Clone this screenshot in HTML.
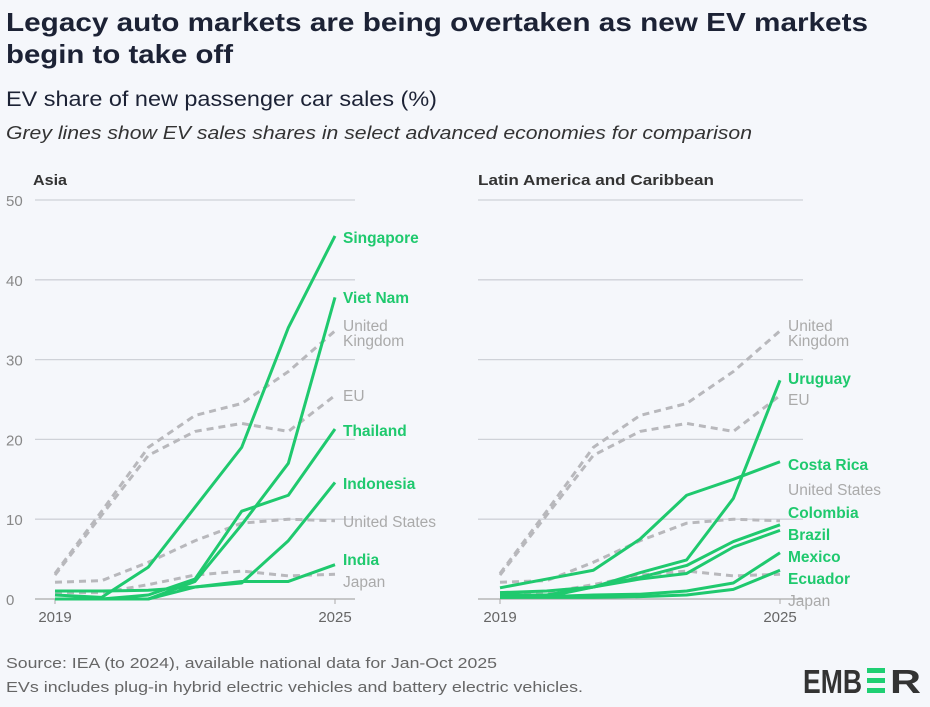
<!DOCTYPE html>
<html><head><meta charset="utf-8">
<style>
body{margin:0;background:#f5f7fb;font-family:"Liberation Sans",sans-serif;}
#wrap{position:relative;width:930px;height:707px;overflow:hidden;background:#f5f7fb;}
</style></head>
<body>
<div id="wrap">
<svg id="svg" width="930" height="707" style="position:absolute;left:0;top:0">
<text x="6" y="31" font-size="26" font-weight="bold" fill="#1c2235" textLength="862" lengthAdjust="spacingAndGlyphs">Legacy auto markets are being overtaken as new EV markets</text>
<text x="6" y="63" font-size="26" font-weight="bold" fill="#1c2235" textLength="227" lengthAdjust="spacingAndGlyphs">begin to take off</text>
<text x="6" y="106" font-size="21" fill="#1c2235" textLength="431" lengthAdjust="spacingAndGlyphs">EV share of new passenger car sales (%)</text>
<text x="6" y="139" font-size="18" font-style="italic" fill="#333" textLength="746" lengthAdjust="spacingAndGlyphs">Grey lines show EV sales shares in select advanced economies for comparison</text>
<text x="33" y="185" font-size="15" font-weight="bold" fill="#333" textLength="34" lengthAdjust="spacingAndGlyphs">Asia</text>
<text x="478" y="185" font-size="15" font-weight="bold" fill="#333" textLength="236" lengthAdjust="spacingAndGlyphs">Latin America and Caribbean</text>
<text x="6" y="668" font-size="15" fill="#666" textLength="491" lengthAdjust="spacingAndGlyphs">Source: IEA (to 2024), available national data for Jan-Oct 2025</text>
<text x="6" y="692" font-size="15" fill="#666" textLength="577" lengthAdjust="spacingAndGlyphs">EVs includes plug-in hybrid electric vehicles and battery electric vehicles.</text>
<g>
<text x="803" y="693" font-size="33" font-weight="bold" fill="#333" textLength="59" lengthAdjust="spacingAndGlyphs">EMB</text>
<text x="890" y="693" font-size="33" font-weight="bold" fill="#333" textLength="31" lengthAdjust="spacingAndGlyphs">R</text>
<rect x="867" y="668" width="18" height="5" fill="#1fcf73"/>
<rect x="867" y="678" width="18" height="5" fill="#1fcf73"/>
<rect x="867" y="688" width="18" height="5" fill="#1fcf73"/>
</g>
</svg>
</div>
<script>
const years=[2019,2020,2021,2022,2023,2024,2025];
const yTicks=[0,10,20,30,40,50];
const ukValues=[3.2,11,19,23,24.5,28.5,33.6];
const euValues=[3,10.5,18,21,22,21,25.5];
const usValues=[2.1,2.3,4.6,7.3,9.5,10,9.8];
const japanValues=[0.8,0.8,1.8,3,3.5,2.9,3.1];
const singaporeValues=[0.5,0.2,4,11.5,19,34,45.5];
const vietnamValues=[0,0,0,2.2,9.3,17,37.8];
const thailandValues=[0,0,0.5,2.5,11,13,21.3];
const indonesiaValues=[0,0,0,1.5,2,7.3,14.6];
const indiaValues=[1,1,1.1,1.5,2.2,2.2,4.3];
const uruguayValues=[0.8,1,1.5,3.3,4.9,12.6,27.4];
const costaRicaValues=[1.4,2.5,3.6,7.5,13,15,17.2];
const colombiaValues=[0.5,0.5,1.5,2.7,4.2,7.2,9.3];
const brazilValues=[0.3,0.3,1.5,2.5,3.2,6.5,8.6];
const mexicoValues=[0.2,0.3,0.5,0.6,1,2,5.8];
const ecuadorValues=[0.2,0.2,0.2,0.3,0.5,1.2,3.6];

const NS="http://www.w3.org/2000/svg";
const svg=document.getElementById('svg');
const GREEN="#1fc96e", GREY="#b8b8bc";
function mk(tag,attrs,parent){const e=document.createElementNS(NS,tag);for(const k in attrs)e.setAttribute(k,attrs[k]);(parent||svg).appendChild(e);return e;}
const y=v=>599-v*7.98;
function panel(id,x0,gx0,gx1,greys,greens,labels,showY){
  const xs=yr=>x0+(yr-2019)*(280/6);
  const g=mk('g',{});
  
  
  yTicks.forEach(t=>{
    const l=mk('line',{x1:gx0,x2:gx1,y1:y(t),y2:y(t),stroke:t===0?"#aaa":"#cfd2d8","stroke-width":1.3},g);
    
    
    if(showY){const tx=mk('text',{x:6,y:y(t)+6,"font-size":15,fill:"#888"},g);tx.textContent=t;
      
      }
  });
  [2019,2025].forEach(yr=>{
    const tk=mk('line',{x1:xs(yr),x2:xs(yr),y1:599,y2:604,stroke:"#aaa"},g);
    
    
    const t=mk('text',{x:xs(yr),y:622,"font-size":15,fill:"#666","text-anchor":"middle"},g);t.textContent=yr;
    
    
  });
  const draw=(vals,col,dash,name)=>{
    const p=mk('polyline',{points:vals.map((v,i)=>xs(years[i])+','+y(v)).join(' '),fill:"none",stroke:col,"stroke-width":3,"stroke-dasharray":dash?"7,5":"none","stroke-linejoin":"round"},g);
    
    
  };
  greys.forEach(s=>draw(s[1],GREY,true,s[0]));
  greens.forEach(s=>draw(s[1],GREEN,false,s[0]));
  labels.forEach(l=>{
    const t=mk('text',{x:x0+288,y:l[1],"font-size":15.5,"font-weight":l[2]?"bold":"normal",fill:l[2]?GREEN:"#aaa"},g);
    t.textContent=l[0];
    
    
  });
}
const greys=[["uk",ukValues],["eu",euValues],["us",usValues],["japan",japanValues]];
panel('asia',55,35,355,greys,[["singapore",singaporeValues],["vietnam",vietnamValues],["thailand",thailandValues],["indonesia",indonesiaValues],["india",indiaValues]],
 [["Singapore",243,1],["Viet Nam",303,1],["United",331,0],["Kingdom",346,0],["EU",401,0],["Thailand",436,1],["Indonesia",489,1],["United States",527,0],["India",565,1],["Japan",587,0]],true);
panel('latam',500,478,803,greys,[["uruguay",uruguayValues],["costa-rica",costaRicaValues],["colombia",colombiaValues],["brazil",brazilValues],["mexico",mexicoValues],["ecuador",ecuadorValues]],
 [["United",331,0],["Kingdom",346,0],["Uruguay",384,1],["EU",405,0],["Costa Rica",470,1],["United States",495,0],["Colombia",518,1],["Brazil",540,1],["Mexico",562,1],["Ecuador",584,1],["Japan",606,0]],false);
</script>
</body></html>
